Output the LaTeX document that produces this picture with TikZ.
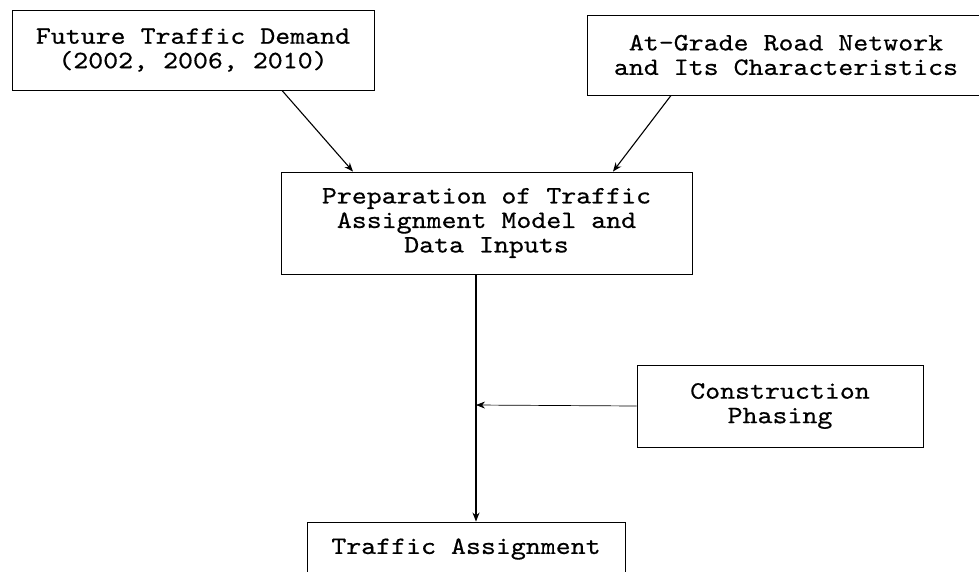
\documentclass[tikz,border=0pt]{standalone}
\usepackage{fontspec}
\newfontfamily\flowfont[FakeStretch=1.14,FakeBold=0.5]{lmmono10-regular.otf}
\usetikzlibrary{arrows.meta}

\begin{document}
\begin{tikzpicture}[x=1pt,y=-1pt,
    box/.style={draw,line width=0.9pt,align=center,inner sep=0pt,
      font=\flowfont\fontsize{25}{24.5}\selectfont},
    link/.style={line width=1.1pt,-{Stealth[length=9pt,width=7pt]}}]
    \useasboundingbox (0,0) rectangle (979,571);
    \node [box,minimum width=362pt,minimum height=80pt] (demand) at (193,50)
      {Future Traffic Demand\\(2002, 2006, 2010)};
    \node [box,minimum width=398pt,minimum height=80pt] (network) at (786,55)
      {At-Grade Road Network\\and Its Characteristics};
    \node [box,minimum width=411pt,minimum height=102pt] (model) at (486.5,223)
      {Preparation of Traffic\\Assignment Model and\\Data Inputs};
    \node [box,minimum width=286pt,minimum height=82pt] (phasing) at (780,406)
      {Construction\\Phasing};
    \node [box,minimum width=318pt,minimum height=54pt] (assign) at (466,549)
      {Traffic Assignment};
    \coordinate (join) at (476,405);
    \draw [link] ([xshift=89pt]demand.south) -- ([xshift=-133.5pt]model.north);
    \draw [link] ([xshift=-115pt]network.south) -- ([xshift=126.5pt]model.north);
    \draw [link] (model.south -| join) -- (assign.north -| join);
    \draw [link,line width=0.7pt] (phasing.west) -- (join);
\end{tikzpicture}
\end{document}
